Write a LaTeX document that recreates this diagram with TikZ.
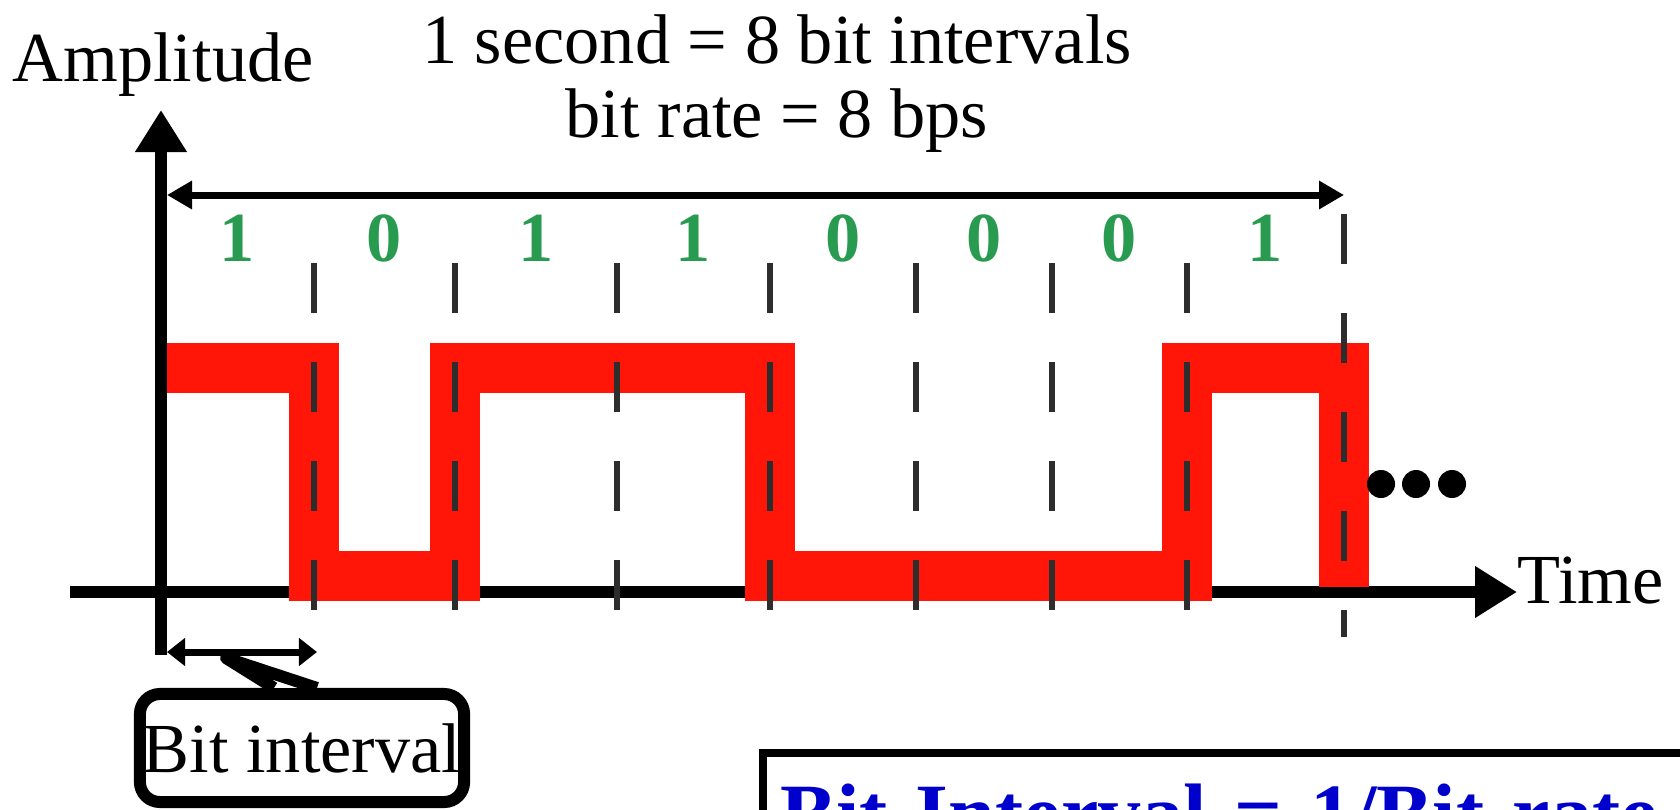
\documentclass[tikz,border=0pt]{standalone}
\usepackage{fontspec}
\setmainfont{Liberation Serif}
\usetikzlibrary{arrows.meta,calc}
\definecolor{sigred}{RGB}{255,22,8}
\definecolor{bitgreen}{RGB}{40,155,80}
\definecolor{noteblue}{RGB}{0,0,204}
\definecolor{tickgray}{RGB}{45,45,45}
\begin{document}
\begin{tikzpicture}[x=0.01cm,y=-0.01cm,
        lbl/.style={font=\fontsize{20}{24}\selectfont, inner sep=0pt},
        bitlbl/.style={font=\fontsize{20}{24}\selectfont\bfseries, text=bitgreen, inner sep=0pt},
        slot/.style={tickgray, line width=0.06cm, dash pattern=on 0.5cm off 0.49cm},
        axisline/.style={line width=0.125cm, -{Triangle[width=0.49cm,length=0.42cm]}},
        spanarrow/.style={line width=0.07cm, {Triangle[width=0.27cm,length=0.25cm]}-{Triangle[width=0.27cm,length=0.25cm]}},
        intarrow/.style={line width=0.07cm, {Triangle[width=0.27cm,length=0.18cm]}-{Triangle[width=0.27cm,length=0.18cm]}}]
        \useasboundingbox (0,0) rectangle (1680,809);
        \clip (0,0) rectangle (1680,809);
        % axes
        \coordinate (O) at (161,592);
        \coordinate (ybot) at (161,655);
        \coordinate (ytop) at (161,110);
        \coordinate (xleft) at (70,592);
        \node[lbl, anchor=base west] (amp) at (12,81) {Amplitude};
        \node[lbl, anchor=base west] (time) at (1517,603) {Time};
        \draw[axisline] (xleft) -- (O -| time.west);
        \draw[axisline] (ybot) -- (ytop);
        % signal
        \draw[sigred, line width=0.5cm, line join=miter] (167,368) -- (314,368) -- (314,576) -- (455,576) -- (455,368) -- (770,368) -- (770,576) -- (1187,576) -- (1187,368) -- (1344,368) -- (1344,587);
        \foreach \x in {314,455,617,770,916,1052,1187}
            \draw[slot] (\x,263) -- (\x,610);
        \draw[slot] (1344,214) -- (1344,637);
        \foreach \x/\b [count=\i, remember=\x as \lastx (initially 161)] in {314/1,455/0,617/1,770/1,916/0,1052/0,1187/0,1344/1}
            \node[bitlbl] (bit\i) at ({(\x+\lastx)/2},238) {\b};
        \coordinate (sl) at (167,195);
        \coordinate (sr) at (1344,195);
        \draw[spanarrow] (sl) -- (sr);
        \node[lbl, anchor=base] (sec) at (777,63) {1 second = 8 bit intervals};
        \node[lbl, anchor=base] (rate) at (777,137) {bit rate = 8 bps};
        \foreach \x [count=\i] in {1381,1416,1452}
            \fill (\x,484) circle (0.14cm) coordinate (dot\i);
        % bit interval
        \coordinate (il) at (167,652);
        \coordinate (ir) at (317,652);
        \draw[intarrow] (il) -- (ir);
        \node[lbl, draw, line width=0.12cm, rounded corners=0.2cm, minimum width=3.24cm, minimum height=1.08cm] (bibox) at (302,748) {Bit interval};
        \coordinate (ptip) at (226,658);
        \filldraw[fill=white, line width=0.12cm, line join=round] ($(bibox.north)+(-28,0)$) -- (ptip) -- ($(bibox.north)+(15,0)$);
        \node[draw, line width=0.08cm, anchor=north west, inner xsep=0.17cm, inner ysep=0.31cm, text width=11cm, align=left, text=noteblue, font=\fontsize{24}{29}\selectfont\bfseries] (note) at (759,749) {Bit Interval = 1/Bit rate};
\end{tikzpicture}
\end{document}
